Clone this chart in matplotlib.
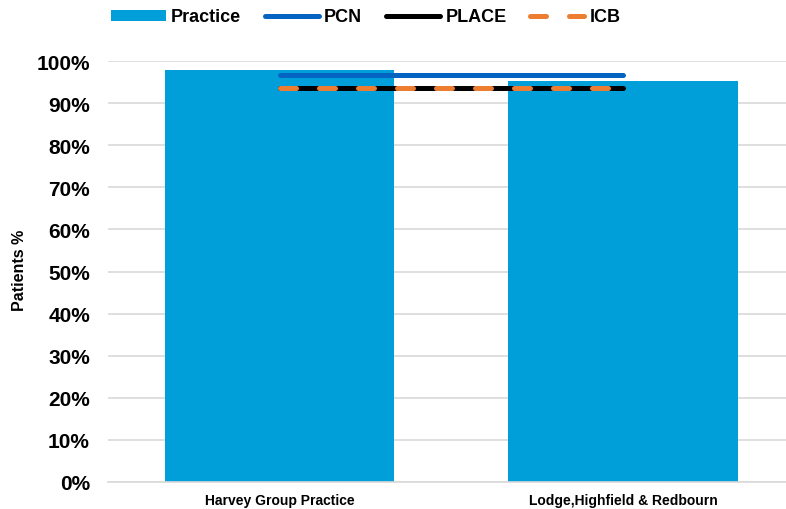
import numpy as np
import matplotlib
matplotlib.use('Agg')
import matplotlib.pyplot as plt
from matplotlib.patches import Patch
from matplotlib.lines import Line2D
from matplotlib.ticker import PercentFormatter

practices = ['Harvey Group Practice', 'Lodge,Highfield & Redbourn']
practice_pct = [97.9, 95.2]
pcn_pct = [96.7, 96.7]
place_pct = [93.5, 93.5]
icb_pct = [93.5, 93.5]

bar_col = '#009FD9'
pcn_col = '#0563C1'
place_col = '#000000'
icb_col = '#ED7D31'

plt.rcParams['font.family'] = ['Liberation Sans', 'DejaVu Sans']
plt.rcParams['font.weight'] = 'bold'

fig = plt.figure(figsize=(7.86, 5.10), dpi=100)
ax = fig.add_axes([108 / 786, 27 / 510, 678 / 786, 421 / 510])

x = np.arange(len(practices))
ax.bar(x, practice_pct, width=0.667, color=bar_col, zorder=2)
ax.plot(x, pcn_pct, color=pcn_col, lw=3.6, solid_capstyle='round', zorder=3)
ax.plot(x, place_pct, color=place_col, lw=3.6, solid_capstyle='round', zorder=3)
ax.plot(x, icb_pct, color=icb_col, lw=3.6, dashes=(3.2, 4.6),
        dash_capstyle='round', zorder=4)

ax.set_xlim(-0.4993, 1.4745)
ax.set_ylim(0, 100)
ax.set_yticks(np.arange(0, 101, 10))
ax.yaxis.set_major_formatter(PercentFormatter(decimals=0))
ax.set_xticks(x)
ax.set_xticklabels(practices, fontsize=10, fontweight='bold')
ax.tick_params(axis='y', length=0, pad=13, labelsize=15)
ax.tick_params(axis='x', length=0, pad=8)
for lab in ax.get_yticklabels():
    lab.set_fontweight('bold')

ax.grid(axis='y', color='#d9d9d9', lw=1.2, zorder=0)
for side in ['top', 'right', 'left']:
    ax.spines[side].set_visible(False)
ax.spines['bottom'].set_color('#d9d9d9')
ax.spines['bottom'].set_linewidth(1.2)

fig.text(20 / 786, 0.5 - 15 / 510, 'Patients %', rotation=90, fontsize=11.5,
         fontweight='bold', ha='center', va='center')

handles = [
    Patch(facecolor=bar_col, label='Practice'),
    Line2D([], [], color=pcn_col, lw=3.6, solid_capstyle='round', label='PCN'),
    Line2D([], [], color=place_col, lw=3.6, solid_capstyle='round', label='PLACE'),
    Line2D([], [], color=icb_col, lw=3.6, dashes=(3.2, 4.6),
           dash_capstyle='round', label='ICB'),
]
fig.legend(handles=handles, loc='center', bbox_to_anchor=(366 / 786, 1 - 18 / 510),
           ncol=4, frameon=False, fontsize=13, handlelength=3,
           handletextpad=0.3, columnspacing=1.3, handleheight=0.55)

fig.savefig('out.png', dpi=100)
